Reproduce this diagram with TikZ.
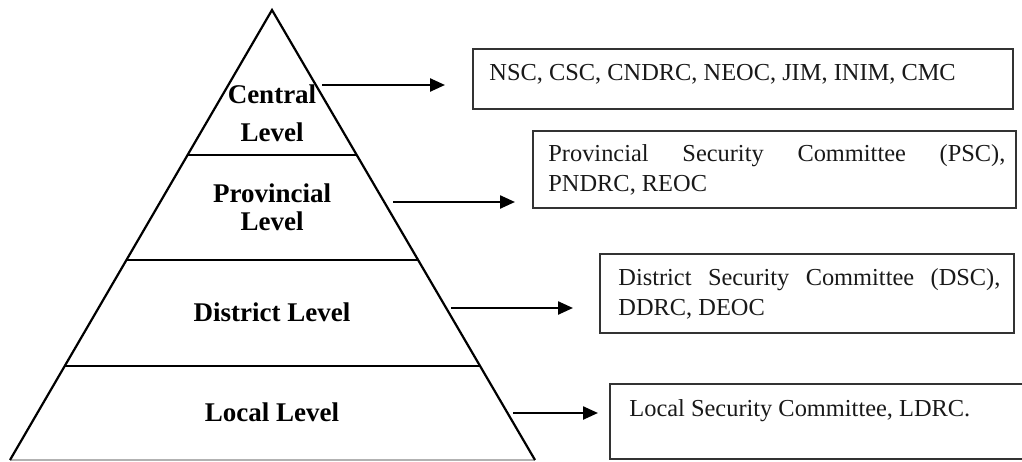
\documentclass[tikz,border=0pt]{standalone}
\usepackage{fontspec}
\setmainfont{Liberation Serif}
\usetikzlibrary{arrows.meta,calc}
\begin{document}
\begin{tikzpicture}[x=0.5pt,y=-0.5pt,
  edge/.style={line width=1.1pt, black},
  tier/.style={line width=1.1pt, black},
  boxframe/.style={draw=black!80, line width=0.75pt, inner sep=0pt, anchor=north west},
  boxtext/.style={inner sep=0pt, anchor=base west, text=black!90, font=\fontsize{12.2}{15}\selectfont},
  lvl/.style={inner sep=0pt, anchor=base, font=\bfseries\fontsize{13.5}{14}\selectfont},
  link/.style={line width=1.2pt, -{Triangle[length=7.5pt,width=6.5pt]}}]
\useasboundingbox (0,0) rectangle (1022,461);
\clip (0,0) rectangle (1022,461);
% pyramid
\coordinate (apex) at (272,10);
\coordinate (bl) at (10,460);
\coordinate (br) at (535,460);
\draw[gray!60, line width=0.8pt] (bl) -- (br);
\draw[edge] (bl) -- (apex) -- (br);
\draw[tier] ($(apex)!0.3222!(bl)$) -- ($(apex)!0.3222!(br)$);
\draw[tier] ($(apex)!0.5556!(bl)$) -- ($(apex)!0.5556!(br)$);
\draw[tier] ($(apex)!0.7911!(bl)$) -- ($(apex)!0.7911!(br)$);
% level labels
\node[lvl] (central) at (272,103.3) {\parbox[t]{100pt}{\centering Central\\[5pt]Level}};
\node[lvl] (provincial) at (272,202.7) {\parbox[t]{100pt}{\centering Provincial\\Level}};
\node[lvl] (district) at (272,321.7) {District Level};
\node[lvl] (local) at (272,421.7) {Local Level};
% boxes
\node[boxframe, minimum width=270pt, minimum height=30pt] (b1) at (472,48) {};
\node[boxframe, minimum width=241.5pt, minimum height=38.5pt] (b2) at (532,130) {};
\node[boxframe, minimum width=207pt, minimum height=39.5pt] (b3) at (599,253) {};
\node[boxframe, minimum width=212pt, minimum height=37.5pt] (b4) at (609,383) {};
\node[boxtext] (t1) at (489,80) {NSC, CSC, CNDRC, NEOC, JIM, INIM, CMC};
\node[boxtext] (t2) at (548,161.7) {\parbox[t]{228.5pt}{\makebox[228.5pt][s]{Provincial Security Committee (PSC),}\\PNDRC, REOC}};
\node[boxtext] (t3) at (618,285) {\parbox[t]{191pt}{\makebox[191pt][s]{District Security Committee (DSC),}\\DDRC, DEOC}};
\node[boxtext] (t4) at (629,416.7) {Local Security Committee, LDRC.};
% arrows
\coordinate (a1s) at (322,85);  \coordinate (a1e) at (445,85);
\coordinate (a2s) at (393,202); \coordinate (a2e) at (515,202);
\coordinate (a3s) at (451,308); \coordinate (a3e) at (573,308);
\coordinate (a4s) at (513,413); \coordinate (a4e) at (598,413);
\draw[link] (a1s) -- (a1e);
\draw[link] (a2s) -- (a2e);
\draw[link] (a3s) -- (a3e);
\draw[link] (a4s) -- (a4e);
\end{tikzpicture}
\end{document}
